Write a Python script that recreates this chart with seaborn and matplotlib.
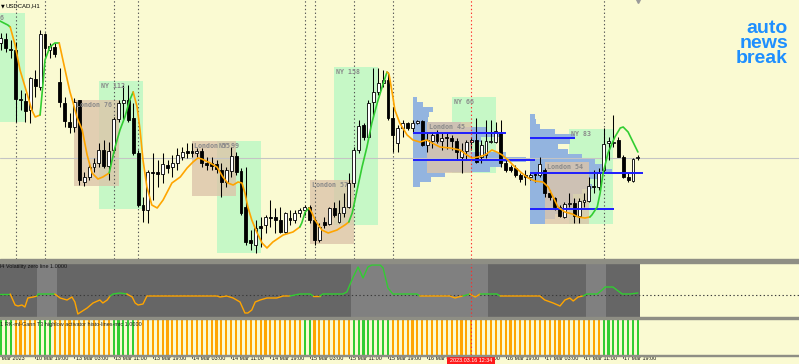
import numpy as np
import pandas as pd
import matplotlib
matplotlib.use("Agg")
import matplotlib.pyplot as plt
from matplotlib.patches import Rectangle
import matplotlib.transforms as mtrans
import seaborn as sns

sns.set_style("white")
plt.rcParams['font.family'] = ['Liberation Sans', 'DejaVu Sans']

# ---------------- data (USDCAD H1) ----------------
opens = [1.3857, 1.3861, 1.3851, 1.3850, 1.3801, 1.3799, 1.3790, 1.3821, 1.3813, 1.3866,
         1.3850, 1.3853, 1.3818, 1.3797, 1.3778, 1.3773, 1.3800, 1.3718, 1.3723, 1.3733,
         1.3737, 1.3750, 1.3734, 1.3750, 1.3781, 1.3797, 1.3800, 1.3782, 1.3747, 1.3695,
         1.3690, 1.3728, 1.3728, 1.3726, 1.3735, 1.3733, 1.3737, 1.3743, 1.3749, 1.3749,
         1.3747, 1.3749, 1.3737, 1.3737, 1.3736, 1.3730, 1.3718, 1.3729, 1.3744, 1.3729,
         1.3693, 1.3660, 1.3655, 1.3674, 1.3675, 1.3683, 1.3683, 1.3680, 1.3668, 1.3682,
         1.3680, 1.3687, 1.3690, 1.3693, 1.3680, 1.3660, 1.3678, 1.3676, 1.3692, 1.3678,
         1.3687, 1.3693, 1.3717, 1.3750, 1.3775, 1.3763, 1.3798, 1.3808, 1.3817, 1.3820,
         1.3782, 1.3757, 1.3772, 1.3777, 1.3772, 1.3777, 1.3779, 1.3755, 1.3759, 1.3766,
         1.3759, 1.3763, 1.3762, 1.3759, 1.3743, 1.3749, 1.3758, 1.3760, 1.3743, 1.3745,
         1.3758, 1.3758, 1.3768, 1.3737, 1.3733, 1.3732, 1.3725, 1.3725, 1.3723, 1.3726,
         1.3725, 1.3730, 1.3707, 1.3702, 1.3693, 1.3683, 1.3696, 1.3697, 1.3684, 1.3698,
         1.3699, 1.3714, 1.3713, 1.3730, 1.3757, 1.3757, 1.3760, 1.3743, 1.3723, 1.3719,
         1.3742]
highs = [1.3867, 1.3867, 1.3860, 1.3858, 1.3810, 1.3807, 1.3823, 1.3830, 1.3870, 1.3867,
         1.3857, 1.3857, 1.3832, 1.3803, 1.3787, 1.3802, 1.3800, 1.3728, 1.3738, 1.3742,
         1.3757, 1.3760, 1.3758, 1.3783, 1.3800, 1.3815, 1.3815, 1.3797, 1.3750, 1.3703,
         1.3730, 1.3747, 1.3740, 1.3747, 1.3740, 1.3745, 1.3752, 1.3753, 1.3757, 1.3757,
         1.3752, 1.3752, 1.3743, 1.3743, 1.3740, 1.3737, 1.3733, 1.3753, 1.3748, 1.3732,
         1.3733, 1.3670, 1.3680, 1.3683, 1.3685, 1.3700, 1.3692, 1.3693, 1.3688, 1.3690,
         1.3690, 1.3692, 1.3695, 1.3695, 1.3682, 1.3677, 1.3683, 1.3693, 1.3698, 1.3700,
         1.3707, 1.3727, 1.3753, 1.3780, 1.3777, 1.3800, 1.3832, 1.3832, 1.3830, 1.3828,
         1.3793, 1.3775, 1.3780, 1.3778, 1.3780, 1.3780, 1.3780, 1.3768, 1.3768, 1.3770,
         1.3767, 1.3767, 1.3765, 1.3762, 1.3757, 1.3760, 1.3763, 1.3782, 1.3760, 1.3780,
         1.3780, 1.3778, 1.3780, 1.3740, 1.3735, 1.3735, 1.3727, 1.3730, 1.3727, 1.3727,
         1.3743, 1.3732, 1.3710, 1.3703, 1.3695, 1.3698, 1.3707, 1.3702, 1.3702, 1.3707,
         1.3723, 1.3730, 1.3732, 1.3772, 1.3763, 1.3785, 1.3763, 1.3745, 1.3727, 1.3742,
         1.3745]
lows = [1.3850, 1.3848, 1.3842, 1.3778, 1.3790, 1.3778, 1.3777, 1.3803, 1.3810, 1.3843,
        1.3842, 1.3843, 1.3793, 1.3773, 1.3767, 1.3768, 1.3715, 1.3714, 1.3720, 1.3728,
        1.3733, 1.3732, 1.3720, 1.3748, 1.3778, 1.3780, 1.3778, 1.3745, 1.3693, 1.3678,
        1.3677, 1.3700, 1.3713, 1.3717, 1.3727, 1.3723, 1.3730, 1.3740, 1.3742, 1.3743,
        1.3743, 1.3733, 1.3730, 1.3730, 1.3727, 1.3703, 1.3713, 1.3723, 1.3725, 1.3685,
        1.3655, 1.3650, 1.3647, 1.3653, 1.3667, 1.3673, 1.3667, 1.3667, 1.3667, 1.3675,
        1.3677, 1.3683, 1.3685, 1.3677, 1.3655, 1.3658, 1.3672, 1.3675, 1.3683, 1.3677,
        1.3683, 1.3692, 1.3713, 1.3747, 1.3760, 1.3760, 1.3783, 1.3805, 1.3813, 1.3780,
        1.3748, 1.3748, 1.3763, 1.3770, 1.3768, 1.3776, 1.3754, 1.3748, 1.3752, 1.3757,
        1.3750, 1.3751, 1.3750, 1.3740, 1.3727, 1.3740, 1.3750, 1.3737, 1.3737, 1.3742,
        1.3757, 1.3757, 1.3733, 1.3728, 1.3728, 1.3723, 1.3718, 1.3715, 1.3720, 1.3718,
        1.3723, 1.3703, 1.3700, 1.3690, 1.3683, 1.3682, 1.3693, 1.3677, 1.3677, 1.3693,
        1.3698, 1.3707, 1.3710, 1.3727, 1.3740, 1.3753, 1.3743, 1.3722, 1.3718, 1.3718,
        1.3740]
closes = [1.3862, 1.3852, 1.3850, 1.3801, 1.3800, 1.3789, 1.3822, 1.3814, 1.3866, 1.3852,
          1.3854, 1.3846, 1.3798, 1.3779, 1.3773, 1.3798, 1.3720, 1.3723, 1.3733, 1.3737,
          1.3750, 1.3734, 1.3749, 1.3781, 1.3797, 1.3800, 1.3780, 1.3747, 1.3695, 1.3690,
          1.3728, 1.3727, 1.3726, 1.3736, 1.3732, 1.3737, 1.3745, 1.3748, 1.3747, 1.3747,
          1.3749, 1.3737, 1.3735, 1.3734, 1.3731, 1.3718, 1.3730, 1.3744, 1.3728, 1.3687,
          1.3658, 1.3657, 1.3672, 1.3672, 1.3683, 1.3682, 1.3680, 1.3668, 1.3687, 1.3680,
          1.3687, 1.3690, 1.3693, 1.3680, 1.3660, 1.3673, 1.3675, 1.3692, 1.3685, 1.3687,
          1.3693, 1.3717, 1.3750, 1.3774, 1.3763, 1.3797, 1.3808, 1.3817, 1.3820, 1.3782,
          1.3765, 1.3772, 1.3777, 1.3772, 1.3777, 1.3779, 1.3755, 1.3760, 1.3765, 1.3759,
          1.3762, 1.3762, 1.3759, 1.3748, 1.3749, 1.3758, 1.3760, 1.3738, 1.3755, 1.3759,
          1.3759, 1.3769, 1.3737, 1.3730, 1.3730, 1.3725, 1.3721, 1.3723, 1.3725, 1.3725,
          1.3736, 1.3707, 1.3703, 1.3693, 1.3684, 1.3696, 1.3697, 1.3684, 1.3699, 1.3700,
          1.3714, 1.3713, 1.3727, 1.3756, 1.3759, 1.3758, 1.3743, 1.3723, 1.3720, 1.3741,
          1.3743]

# T3 moving-average line (bar index, price)
t3_x = [-0.2, 1.4, 1.9, 2.9, 3.9, 5.3, 6.3, 7.0, 8.0, 8.6, 9.0, 10.0, 11.0, 11.9, 13.1, 14.1,
        14.7, 15.5, 16.6, 17.6, 18.6, 19.8, 20.8, 22.1, 23.3, 24.3, 25.3, 26.3, 27.0, 27.8,
        28.4, 29.0, 29.8, 30.8, 31.9, 33.1, 34.9, 36.6, 38.0, 39.2, 40.2, 41.0, 42.7, 44.1,
        45.3, 46.3, 47.4, 48.4, 49.2, 49.8, 50.4, 51.2, 52.3, 53.3, 54.3, 55.5, 57.6, 59.6,
        61.0, 61.4, 62.1, 62.9, 63.5, 64.1, 65.5, 66.8, 68.6, 70.2, 71.0, 71.7, 72.7, 73.7,
        74.7, 75.7, 76.8, 77.8, 78.8, 79.2, 80.0, 80.4, 81.4, 82.9, 84.1, 85.5, 86.9, 88.0,
        89.6, 91.7, 93.7, 95.1, 96.1, 97.4, 98.8, 100.2, 101.2, 102.3, 103.5, 104.9, 106.3,
        107.6, 109.0, 110.6, 111.7, 112.7, 113.7, 115.1, 116.6, 117.8, 119.2, 120.2, 120.6,
        121.7, 122.3, 122.9, 123.9, 125.3, 126.4, 127.0, 128.0, 129.0, 130.0]
t3_y = [1.3879, 1.3875, 1.3873, 1.3855, 1.3830, 1.3807, 1.3790, 1.3783, 1.3785, 1.3817,
        1.3840, 1.3853, 1.3857, 1.3857, 1.3830, 1.3808, 1.3798, 1.3783, 1.3770, 1.3745,
        1.3727, 1.3721, 1.3723, 1.3727, 1.3753, 1.3770, 1.3783, 1.3800, 1.3808, 1.3793,
        1.3770, 1.3740, 1.3713, 1.3695, 1.3692, 1.3700, 1.3717, 1.3723, 1.3732, 1.3738,
        1.3742, 1.3741, 1.3737, 1.3733, 1.3723, 1.3717, 1.3715, 1.3718, 1.3717, 1.3707,
        1.3693, 1.3680, 1.3667, 1.3657, 1.3652, 1.3658, 1.3665, 1.3668, 1.3673, 1.3677,
        1.3688, 1.3692, 1.3687, 1.3680, 1.3670, 1.3667, 1.3670, 1.3675, 1.3678, 1.3687,
        1.3710, 1.3733, 1.3753, 1.3777, 1.3797, 1.3813, 1.3828, 1.3826, 1.3803, 1.3790,
        1.3777, 1.3765, 1.3760, 1.3758, 1.3760, 1.3757, 1.3753, 1.3752, 1.3750, 1.3745,
        1.3742, 1.3743, 1.3745, 1.3750, 1.3748, 1.3745, 1.3740, 1.3733, 1.3727, 1.3722,
        1.3719, 1.3718, 1.3713, 1.3703, 1.3693, 1.3688, 1.3686, 1.3683, 1.3682, 1.3683,
        1.3685, 1.3693, 1.3707, 1.3727, 1.3747, 1.3763, 1.3772, 1.3773, 1.3768, 1.3758,
        1.3748]
t3_up_spans = [(-0.5, 1.9), (8.0, 11.9), (22.1, 27.0), (61.0, 62.9), (71.0, 78.8), (120.2, 130.5)]

# Sessions: (start bar, end bar, high, low, label)
ny_sessions = [(-4, 5, 1.3887, 1.3778, "NY 156"), (20, 29, 1.3819, 1.3691, "NY 112"),
               (44, 53, 1.3759, 1.3647, "NY 99"), (68, 77, 1.3833, 1.3675, "NY 158"),
               (92, 101, 1.3803, 1.3727, "NY 66"), (116, 125, 1.3771, 1.3676, "NY 83")]
london_sessions = [(15, 24, 1.3800, 1.3714, "London 76"), (39, 48, 1.3759, 1.3704, "London 55"),
                   (63, 72, 1.3720, 1.3656, "London 57"), (87, 96, 1.3778, 1.3727, "London 45"),
                   (111, 120, 1.3738, 1.3676, "London 54")]

# Volume profiles: anchor bar, bin tops (price), bin lengths (bars)
prof1_anchor = 84
prof1_levels = [1.3803, 1.3798, 1.3793, 1.3788, 1.3783, 1.3778, 1.3773, 1.3768, 1.3763,
                1.3758, 1.3753, 1.3748, 1.3743, 1.3738, 1.3733, 1.3728, 1.3723, 1.3718]
prof1_len = [1.0, 2.2, 4.1, 3.3, 3.1, 9.8, 15.3, 18.0, 13.9, 12.2, 11.8, 19.0, 23.1, 18.0,
             15.9, 6.7, 3.7, 1.6]
prof2_anchor = 108
prof2_levels = [1.3786, 1.3781, 1.3776, 1.3771, 1.3766, 1.3761, 1.3756, 1.3751, 1.3746,
                1.3741, 1.3736, 1.3731, 1.3726, 1.3721, 1.3716, 1.3711, 1.3706, 1.3701,
                1.3696, 1.3691, 1.3686, 1.3681]
prof2_len = [1.0, 1.2, 2.0, 5.1, 9.2, 8.2, 5.7, 7.8, 10.6, 13.3, 14.7, 16.7, 13.9, 11.8,
             12.7, 10.6, 8.8, 9.6, 8.6, 7.1, 5.1, 3.1]
# value-area / POC lines: (price, start bar, end bar)
profile_lines = [(1.3767, 84, 103.1), (1.3740, 84, 109.0),
                 (1.3762, 108, 117.2), (1.3727, 108, 131.0), (1.3691, 108, 125.1)]

news_bars = [3, 9, 23, 28, 62, 64, 72, 80, 123]
cursor_bar = 96
cursor_label = "2023.03.16 12:34"
ref_price = 1.3742

# H4 volatility indicator
vol_x = [-0.2, 1.9, 2.9, 3.5, 4.3, 4.9, 5.5, 6.6, 7.4, 7.6, 9.4, 11.0, 12.1, 13.5, 14.5, 15.1,
         15.7, 17.6, 18.8, 20.2, 20.8, 21.7, 22.3, 22.9, 24.3, 25.7, 26.8, 27.4, 28.0, 29.0,
         29.8, 31.0, 35.1, 35.9, 44.1, 44.7, 46.1, 47.4, 48.8, 49.8, 50.4, 51.2, 51.9, 52.9,
         54.3, 56.3, 57.6, 59.0, 61.0, 63.1, 63.7, 65.1, 65.7, 69.8, 70.6, 71.2, 71.9, 72.9,
         73.9, 74.9, 75.7, 77.4, 78.0, 79.0, 80.0, 81.4, 84.9, 85.5, 91.6, 92.7, 93.3, 94.3,
         95.7, 96.8, 97.8, 101.2, 101.9, 109.4, 110.0, 111.0, 112.7, 114.1, 115.1, 116.1,
         116.8, 117.8, 118.8, 119.6, 121.7, 122.7, 123.3, 124.9, 125.7, 126.8, 128.4, 130.0]
vol_v = [1.01, 1.01, 0.90, 0.89, 0.90, 0.88, 0.97, 0.98, 0.99, 1.01, 1.01, 1.01, 0.97, 0.95,
         0.98, 0.93, 0.81, 0.87, 0.92, 0.95, 0.92, 0.95, 0.99, 1.01, 1.02, 1.01, 0.98, 0.92,
         0.90, 0.91, 0.99, 0.99, 0.99, 0.99, 0.99, 0.98, 0.99, 0.97, 0.93, 0.82, 0.82, 0.85,
         0.93, 0.95, 0.97, 0.97, 0.99, 0.99, 1.01, 1.01, 0.99, 0.99, 1.01, 1.01, 1.03, 1.10,
         1.18, 1.28, 1.17, 1.28, 1.30, 1.30, 1.27, 1.07, 1.01, 1.01, 1.01, 0.99, 0.99, 0.97,
         0.98, 0.99, 1.01, 0.98, 1.01, 1.01, 0.99, 0.99, 0.99, 0.95, 0.92, 0.89, 0.95, 0.97,
         0.94, 0.98, 0.99, 1.01, 1.01, 1.05, 1.08, 1.08, 1.05, 1.01, 1.01, 1.02]
vol_zero = 1.0
vol_dark_span = (-0.5, 130.4)
vol_light_spans = [(7.4, 11.4), (71.5, 99.4), (119.4, 123.5)]

# T3 high/low activator histogram: bars in up-trend
hist_up_ranges = [(0, 2), (8, 10), (23, 27), (62, 63), (72, 79), (123, 130)]

# time axis labels (bar index, text)
time_ticks = [-1, 7, 15, 23, 31, 39, 47, 55, 63, 71, 79, 87, 95, 103, 111, 119, 127]
time_labels = ["9 Mar 2023", "10 Mar 19:00", "13 Mar 03:00", "13 Mar 11:00", "13 Mar 19:00",
               "14 Mar 03:00", "14 Mar 11:00", "14 Mar 19:00", "15 Mar 03:00", "15 Mar 11:00",
               "15 Mar 19:00", "16 Mar 03:00", "16 Mar 11:00", "16 Mar 19:00", "17 Mar 03:00",
               "17 Mar 11:00", "17 Mar 19:00"]

# ---------------- styling ----------------
CREAM = '#fafad2'
SEP = '#8e8e84'
GREEN_BOX = '#c6f8c6'
TAN_BOX = '#dcc5aa'
PROF = '#93b4df'
ORANGE = '#ffa500'
LIME = '#32cd32'

W_PX, H_PX = 799.0, 364.0
fig = plt.figure(figsize=(7.99, 3.64), dpi=100)
fig.patch.set_facecolor(CREAM)

def band(y0, y1):
    return [0, (H_PX - y1) / H_PX, 1, (y1 - y0) / H_PX]

ax = fig.add_axes(band(0, 259))
axv = fig.add_axes(band(263, 317))
axh = fig.add_axes(band(319, 355))

for yy0, yy1 in [(259, 263), (317, 319), (355, 356)]:
    fig.patches.append(Rectangle((0, (H_PX - yy1) / H_PX), 1, (yy1 - yy0) / H_PX,
                                 transform=fig.transFigure, color=SEP, zorder=0))

xlim = (-0.9 / 4.9, (W_PX - 0.9) / 4.9)
for a in (ax, axv, axh):
    a.set_facecolor(CREAM)
    for s in a.spines.values():
        s.set_visible(False)

idx = np.arange(len(opens))
o = np.array(opens); h = np.array(highs); l = np.array(lows); c = np.array(closes)

# ---- main panel ----
for s, e, hi, lo, lab in ny_sessions:
    ax.add_patch(Rectangle((s, lo), e - s, hi - lo, fc=GREEN_BOX, ec='none', zorder=1))
ax.barh([v - 0.00025 for v in prof1_levels], prof1_len, left=prof1_anchor, height=0.0005,
        color=PROF, zorder=1.5, linewidth=0)
ax.barh([v - 0.00025 for v in prof2_levels], prof2_len, left=prof2_anchor, height=0.0005,
        color=PROF, zorder=1.5, linewidth=0)
for s, e, hi, lo, lab in london_sessions:
    ax.add_patch(Rectangle((s, lo), e - s, hi - lo, fc=TAN_BOX, ec='none', alpha=0.8, zorder=2))

ax.axhline(ref_price, color='#c4c4c4', lw=0.8, zorder=2.2)
for nb in news_bars:
    ax.axvline(nb, color='#555555', lw=0.8, ls=(0, (1.2, 2.2)), zorder=2.3)
for a in (ax, axv, axh):
    a.axvline(cursor_bar, color='#ff2a2a', lw=0.8, ls=(0, (1.2, 2.2)), zorder=6)

ax.vlines(idx, l, h, colors='black', lw=0.75, zorder=3)
bottoms = np.minimum(o, c)
heights = np.maximum(np.abs(c - o), 0.00005)
faces = ['white' if cc >= oo else 'black' for oo, cc in zip(o, c)]
ax.bar(idx, heights, width=0.6, bottom=bottoms, color=faces, edgecolor='black',
       linewidth=0.6, zorder=3.5)

for p, s, e in profile_lines:
    ax.plot([s, e], [p, p], color='#1e1eff', lw=1.4, zorder=4, solid_capstyle='butt')

def runs_of(flags):
    out, start = [], 0
    for k in range(1, len(flags) + 1):
        if k == len(flags) or flags[k] != flags[start]:
            out.append((start, k, flags[start]))
            start = k
    return out

t3_flags = []
for k in range(len(t3_x) - 1):
    m = 0.5 * (t3_x[k] + t3_x[k + 1])
    t3_flags.append(any(a0 <= m <= a1 for a0, a1 in t3_up_spans))
for a0, a1, up in runs_of(t3_flags):
    df = pd.DataFrame({'bar': t3_x[a0:a1 + 1], 'price': t3_y[a0:a1 + 1]})
    sns.lineplot(data=df, x='bar', y='price', color=LIME if up else ORANGE, lw=1.2,
                 estimator=None, sort=False, legend=False, ax=ax, zorder=5)

for s, e, hi, lo, lab in ny_sessions + london_sessions:
    if s < xlim[0]:
        ax.annotate(lab, xy=(xlim[0], hi), xytext=(4, -2), textcoords='offset pixels',
                    ha='right', va='top', fontsize=4.8, fontweight='bold',
                    family='DejaVu Sans Mono', color='#8a8a8a', zorder=7)
    else:
        ax.annotate(lab, xy=(s, hi), xytext=(2, -2), textcoords='offset pixels',
                    ha='left', va='top', fontsize=4.8, fontweight='bold',
                    family='DejaVu Sans Mono', color='#8a8a8a', zorder=7)

ax.plot([130], [1.0], transform=mtrans.blended_transform_factory(ax.transData, ax.transAxes),
        marker='v', ms=4, color='#9a9a9a', clip_on=False, zorder=7)

ax.set_xlim(*xlim)
ax.set_ylim(1.3900 - 0.0259, 1.3900)
ax.set_xticks([]); ax.set_yticks([])
ax.set_xlabel(''); ax.set_ylabel('')

# ---- volatility panel ----
axv.axvspan(*vol_dark_span, color='#666666', zorder=0.5, lw=0)
for a0, a1 in vol_light_spans:
    axv.axvspan(a0, a1, color='#808080', zorder=0.6, lw=0)
axv.axhline(vol_zero, color='#3a3a3a', lw=0.8, ls=(0, (1.2, 2.2)), zorder=1)
vol_flags = [0.5 * (vol_v[k] + vol_v[k + 1]) >= vol_zero for k in range(len(vol_v) - 1)]
for a0, a1, up in runs_of(vol_flags):
    df = pd.DataFrame({'bar': vol_x[a0:a1 + 1], 'v': vol_v[a0:a1 + 1]})
    sns.lineplot(data=df, x='bar', y='v', color=LIME if up else ORANGE, lw=1.0,
                 estimator=None, sort=False, legend=False, ax=axv, zorder=3)
axv.set_xlim(*xlim)
axv.set_ylim(0.78, 1.32)
axv.set_xticks([]); axv.set_yticks([])
axv.set_xlabel(''); axv.set_ylabel('')
axv.text(-4 / 4.9, 0.975, "H4 Volatility zero line 1.0000", transform=mtrans.blended_transform_factory(axv.transData, axv.transAxes),
         ha='left', va='top', fontsize=4.0, color='#111111', zorder=5)

# ---- histogram panel ----
hist_cols = []
for i in idx:
    up = any(a0 <= i <= a1 for a0, a1 in hist_up_ranges)
    hist_cols.append(LIME if up else ORANGE)
axh.bar(idx, np.ones(len(idx)), width=0.42, color=hist_cols, linewidth=0, zorder=2)
axh.set_xlim(*xlim)
axh.set_ylim(0, 1.0)
axh.set_xticks([]); axh.set_yticks([])
bt = mtrans.blended_transform_factory(axh.transData, axh.transAxes)
axh.text(-5 / 4.9, 0.93, "H1 RK-ml-Gann T3 highlow activator histo-lines-mtc 1.0000", transform=bt,
         ha='left', va='top', fontsize=4.0, color='#222222', zorder=5)

for tb, tl in zip(time_ticks, time_labels):
    axh.plot([tb, tb], [-0.09, 0.0], transform=bt, color='#333333', lw=0.6, clip_on=False)
    axh.text(tb + 0.25, -0.03, tl, transform=bt, ha='left', va='top', fontsize=3.9,
             color='#111111', clip_on=False)
axh.add_patch(Rectangle((91.1, -0.26), 9.8, 0.235, transform=bt, fc='#ff1a1a', ec='none',
                        clip_on=False, zorder=8))
axh.text(cursor_bar, -0.145, cursor_label, transform=bt, ha='center', va='center', fontsize=3.9,
         color='white', clip_on=False, zorder=9)

# ---- titles / watermark ----
fig.text(0.5 / W_PX, 1 - 5.5 / H_PX, "\u25bc", fontsize=3.5, color='black', va='center', ha='left',
         family=['DejaVu Sans'])
fig.text(5 / W_PX, 1 - 5.5 / H_PX, "USDCAD,H1", fontsize=4.3, color='black', va='center', ha='left')
for txt, base in [("auto", 33), ("news", 48), ("break", 63)]:
    fig.text(788 / W_PX, 1 - base / H_PX, txt, fontsize=14, fontweight='bold', color='#1e8fff',
             ha='right', va='baseline')

fig.savefig("out.png", dpi=100, facecolor=fig.get_facecolor())
